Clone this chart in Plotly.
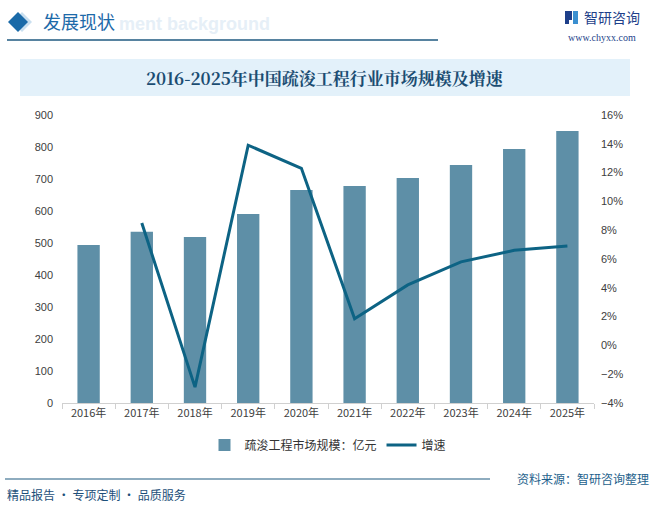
import plotly.graph_objects as go

years = ["2016年", "2017年", "2018年", "2019年", "2020年", "2021年", "2022年", "2023年", "2024年", "2025年"]
market_size = [494, 535, 519, 591, 666, 678, 703, 744, 794, 850]
growth_years = years[1:]
growth = [8.5, -2.9, 13.9, 12.3, 1.85, 4.2, 5.8, 6.6, 6.9]

W, H = 658, 506
L, R, T, B = 62, 594, 115, 403


def px(x):
    return (x - L) / (R - L)


def py(y):
    return (B - y) / (B - T)


fig = go.Figure()
fig.add_trace(go.Bar(
    x=years, y=market_size, name="疏浚工程市场规模：亿元",
    marker=dict(color="#5e8fa7", line=dict(width=0)), width=0.42,
))
fig.add_trace(go.Scatter(
    x=growth_years, y=growth, name="增速", yaxis="y2", mode="lines",
    line=dict(color="#0d6384", width=3),
))

shapes = []
annotations = []
# title band
shapes.append(dict(type="rect", xref="paper", yref="paper",
                   x0=px(20), x1=px(630), y0=py(96), y1=py(59),
                   fillcolor="#e3f1fa", line=dict(width=0), layer="below"))
annotations.append(dict(xref="paper", yref="paper", x=px(325), y=py(78),
                        text="<b>2016-2025年中国疏浚工程行业市场规模及增速</b>", showarrow=False,
                        font=dict(size=17, color="#1b4d72", family="Noto Serif CJK SC, Noto Sans CJK SC"),
                        xanchor="center", yanchor="middle"))
# header
shapes.append(dict(type="path", xref="paper", yref="paper",
                   path=f"M {px(22)} {py(12)} L {px(32)} {py(22)} L {px(22)} {py(32)} L {px(12)} {py(22)} Z",
                   fillcolor="#c9dff0", line=dict(width=0)))
shapes.append(dict(type="path", xref="paper", yref="paper",
                   path=f"M {px(18)} {py(12)} L {px(28)} {py(22)} L {px(18)} {py(32)} L {px(8)} {py(22)} Z",
                   fillcolor="#1a6aa8", line=dict(width=0)))
annotations.append(dict(xref="paper", yref="paper", x=px(117), y=py(24),
                        text="<b>ment background</b>", showarrow=False,
                        font=dict(size=18, color="#e6eff7", family="Arial"),
                        xanchor="left", yanchor="middle"))
annotations.append(dict(xref="paper", yref="paper", x=px(41), y=py(21),
                        text="发展现状", showarrow=False,
                        font=dict(size=18, color="#1d6aa9", family="Noto Sans CJK SC"),
                        xanchor="left", yanchor="middle"))
shapes.append(dict(type="line", xref="paper", yref="paper",
                   x0=px(7), x1=px(438), y0=py(40), y1=py(40),
                   line=dict(color="#1f5a80", width=1.5)))
# logo
shapes.append(dict(type="rect", xref="paper", yref="paper",
                   x0=px(565), x1=px(572), y0=py(20), y1=py(11),
                   fillcolor="#1e3f8a", line=dict(width=0)))
shapes.append(dict(type="rect", xref="paper", yref="paper",
                   x0=px(565), x1=px(569), y0=py(24), y1=py(20),
                   fillcolor="#1e3f8a", line=dict(width=0)))
shapes.append(dict(type="rect", xref="paper", yref="paper",
                   x0=px(573), x1=px(578), y0=py(24), y1=py(11),
                   fillcolor="#3a8fd0", line=dict(width=0)))
annotations.append(dict(xref="paper", yref="paper", x=px(582), y=py(17),
                        text="智研咨询", showarrow=False,
                        font=dict(size=14, color="#1e3f8a", family="Noto Sans CJK SC"),
                        xanchor="left", yanchor="middle"))
annotations.append(dict(xref="paper", yref="paper", x=px(602), y=py(38),
                        text="www.chyxx.com", showarrow=False,
                        font=dict(size=10, color="#1e3f8a", family="Liberation Serif"),
                        xanchor="center", yanchor="middle"))
# footer
shapes.append(dict(type="line", xref="paper", yref="paper",
                   x0=px(5), x1=px(490), y0=py(479), y1=py(479),
                   line=dict(color="#1f5a80", width=1.2)))
annotations.append(dict(xref="paper", yref="paper", x=px(651), y=py(478),
                        text="资料来源：智研咨询整理", showarrow=False,
                        font=dict(size=12, color="#1d5f8c", family="Noto Sans CJK SC"),
                        xanchor="right", yanchor="middle"))
annotations.append(dict(xref="paper", yref="paper", x=px(5), y=py(494),
                        text="精品报告 · 专项定制 · 品质服务", showarrow=False,
                        font=dict(size=12, color="#1d4f7a", family="Noto Sans CJK SC"),
                        xanchor="left", yanchor="middle"))

fig.update_layout(
    width=W, height=H,
    margin=dict(l=L, r=W - R, t=T, b=H - B),
    paper_bgcolor="white", plot_bgcolor="white",
    font=dict(family="Liberation Sans, Arial", size=11, color="#404040"),
    showlegend=True,
    legend=dict(orientation="h", x=0.5, xanchor="center", y=py(445), yanchor="middle",
                font=dict(size=12, color="#333333", family="Noto Sans CJK SC"),
                itemwidth=30, tracegroupgap=0),
    bargap=0.58,
    xaxis=dict(showgrid=False, showline=True, linecolor="#d0d0d0", linewidth=1,
               ticks="outside", tickson="boundaries", tickcolor="#d0d0d0", ticklen=5,
               tickfont=dict(size=11, color="#404040", family="Noto Sans CJK SC")),
    yaxis=dict(range=[0, 900], dtick=100, showgrid=False, zeroline=False, showline=False,
               tickfont=dict(size=11, color="#404040"), ticks="", ticklabelstandoff=8),
    yaxis2=dict(range=[-4, 16], dtick=2, overlaying="y", side="right", showgrid=False,
                zeroline=False, showline=False, ticksuffix="%",
                tickfont=dict(size=11, color="#404040"), ticklabelstandoff=6),
    shapes=shapes, annotations=annotations,
)

fig.write_html("out.html", config={"displayModeBar": False},
               post_script="document.body.style.margin='0';document.body.style.padding='0';")
